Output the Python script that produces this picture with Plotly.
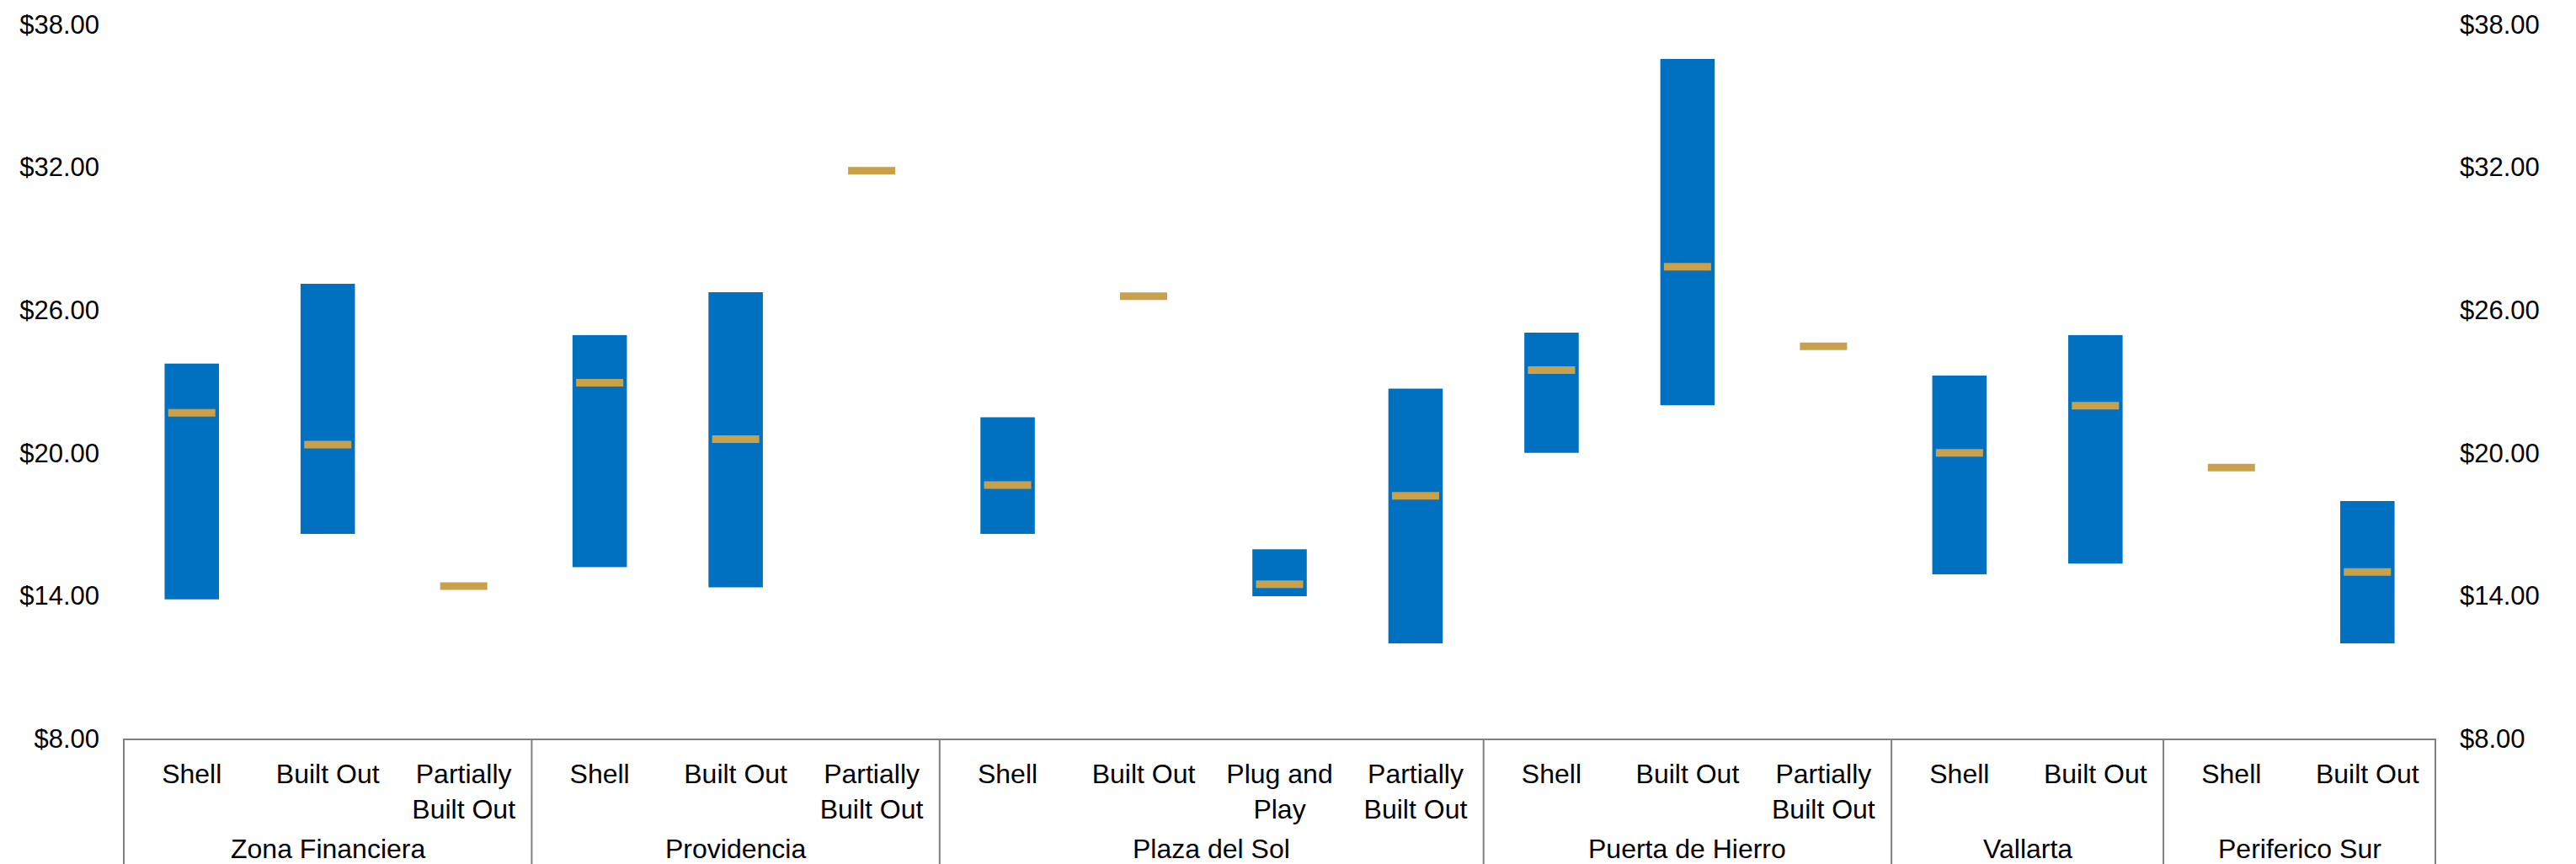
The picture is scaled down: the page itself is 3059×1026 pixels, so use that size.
import plotly.graph_objects as go

# Rental rate ranges (low / high) and average by submarket and space condition
submarkets = (["Zona Financiera"] * 3 + ["Providencia"] * 3 + ["Plaza del Sol"] * 4
              + ["Puerta de Hierro"] * 3 + ["Vallarta"] * 2 + ["Periferico Sur"] * 2)
conditions = ["Shell", "Built Out", "Partially<br>Built Out",
              "Shell", "Built Out", "Partially<br>Built Out",
              "Shell", "Built Out", "Plug and<br>Play", "Partially<br>Built Out",
              "Shell", "Built Out", "Partially<br>Built Out",
              "Shell", "Built Out",
              "Shell", "Built Out"]
low_rate = [13.85, 16.60, None,
            15.20, 14.35, None,
            16.60, None, 13.98, 12.00,
            20.00, 22.00, None,
            14.90, 15.35,
            None, 12.00]
high_rate = [23.75, 27.10, None,
             24.95, 26.75, None,
             21.50, None, 15.95, 22.70,
             25.05, 36.55, None,
             23.25, 24.95,
             None, 17.98]
avg_rate = [21.68, 20.35, 14.40,
            22.95, 20.58, 31.85,
            18.65, 26.58, 14.48, 18.20,
            23.48, 27.82, 24.48,
            20.00, 21.98,
            19.38, 15.00]

y_ticks = [8, 14, 20, 26, 32, 38]

BLUE = "#0070C0"
GOLD = "#C9A14A"
AXIS_GREY = "#7F7F7F"
FONT = "Liberation Sans, Arial, sans-serif"
Y_FONT_SIZE = 31
X_FONT_SIZE = 32

# one slot per (submarket, condition) pair, in the order given
slots = list(range(len(conditions)))
span = [None if (h is None or l is None) else h - l for h, l in zip(high_rate, low_rate)]

# submarket groups: first/last slot of each run of equal names
groups = []
for i, name in enumerate(submarkets):
    if groups and groups[-1][0] == name:
        groups[-1][2] = i
    else:
        groups.append([name, i, i])

fig = go.Figure()
fig.add_trace(go.Bar(
    x=slots, y=span, base=low_rate,
    marker=dict(color=BLUE, line=dict(width=0)),
    width=0.4, showlegend=False, yaxis="y",
))
fig.add_trace(go.Scatter(
    x=slots, y=avg_rate, mode="markers",
    marker=dict(symbol="line-ew", size=40, line=dict(color=GOLD, width=9)),
    showlegend=False, yaxis="y2",
))

# submarket names centred under each group
for name, first, last in groups:
    fig.add_annotation(
        x=(first + last) / 2, xref="x", y=0, yref="paper",
        yanchor="middle", yshift=-131, showarrow=False,
        text=name, font=dict(family=FONT, size=X_FONT_SIZE, color="#000000"),
    )

# vertical dividers framing each submarket group below the axis
edges = [groups[0][1] - 0.5] + [last + 0.5 for _, _, last in groups]
for k, b in enumerate(edges):
    if k == 0:
        xref, xv = "x domain", 0
    elif k == len(edges) - 1:
        xref, xv = "x domain", 1
    else:
        xref, xv = "x", b
    fig.add_shape(
        type="line", xref=xref, x0=xv, x1=xv, yref="paper", y0=0, y1=-0.2,
        line=dict(color=AXIS_GREY, width=2),
    )

yaxis_common = dict(
    range=[8, 38], tickvals=y_ticks, tickformat="$.2f",
    showgrid=False, zeroline=False, showline=False, ticks="",
    tickfont=dict(family=FONT, size=Y_FONT_SIZE, color="#000000"),
    ticklabelstandoff=28,
)

fig.update_layout(
    width=3059, height=1026,
    margin=dict(l=147, r=167, t=27, b=149),
    paper_bgcolor="white", plot_bgcolor="white",
    font=dict(family=FONT, size=Y_FONT_SIZE, color="#000000"),
    xaxis=dict(
        range=[-0.5, len(slots) - 0.5],
        tickvals=slots, ticktext=conditions, tickangle=0,
        showline=True, linecolor=AXIS_GREY, linewidth=2,
        showgrid=False, zeroline=False, ticks="",
        ticklabelstandoff=13,
        tickfont=dict(family=FONT, size=X_FONT_SIZE, color="#000000"),
    ),
    yaxis=dict(side="left", **yaxis_common),
    yaxis2=dict(side="right", overlaying="y", **yaxis_common),
    bargap=0.6,
)

fig.write_html("out.html")
